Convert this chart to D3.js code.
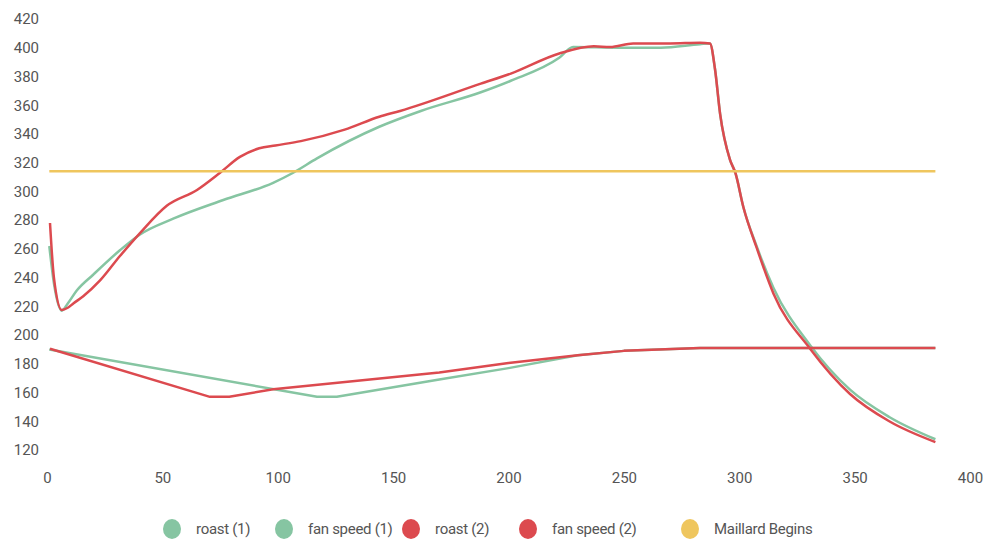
<!DOCTYPE html>
<html>
<head>
<meta charset="utf-8">
<script src="https://cdn.jsdelivr.net/npm/d3@7"></script>
<style>
  body { margin: 0; background: #fff; font-family: Roboto, "Noto Sans", sans-serif; }
  svg text { font-family: Roboto, "Noto Sans", sans-serif; }
</style>
</head>
<body>
<svg id="chart"></svg>
<script>
// roast (1) - time in seconds, temperature
var roast1Time = [1, 3, 6.4, 9, 12.9, 20, 31.6, 40.3, 54.7, 76.4, 98, 106.7, 117, 144, 162, 188, 201, 222, 228, 248, 266, 283, 287.3, 289.5, 291.7, 296, 298.3, 301.8, 307.5, 314.8, 330.7, 348, 365, 385];
var roast1Temp = [262, 236, 217, 222, 231, 242, 259, 270, 281, 294, 306, 313, 323, 345, 356, 369, 377, 393, 400.5, 400, 400, 402.5, 403, 385, 354, 322, 313, 289, 262, 233, 193, 162, 143, 127.5];

// roast (2)
var roast2Time = [1.3, 3, 6.4, 9, 11.4, 15.7, 23, 31.6, 40.3, 51.9, 65, 75, 83.6, 92, 99, 110, 129, 144, 153, 188, 201, 222, 237, 244, 254, 270, 283, 287.3, 289.5, 291.7, 296, 298.3, 301.8, 307.5, 314.8, 330.7, 348, 365, 385];
var roast2Temp = [278, 240, 217.5, 219, 222, 227, 238, 255, 271, 290, 301, 313, 324, 330, 332, 335, 343, 352, 356, 375, 382, 396, 401, 400.5, 403, 403, 403.5, 403, 385, 354, 322, 313, 289, 261, 229, 190.5, 159, 140, 125.5];

// fan speed (1)
var fan1Time = [1, 117, 125.6, 170, 200, 230, 250, 283, 385];
var fan1Speed = [190, 157, 157, 169, 177, 186, 189, 191, 191];

// fan speed (2)
var fan2Time = [1.3, 70.6, 79, 98, 170, 200, 230, 250, 283, 385];
var fan2Speed = [190.5, 157, 157, 162.3, 174, 180.5, 186, 189, 191, 191];

// Maillard begins
var maillardTime = [1, 385];
var maillardTemp = [314, 314];

var xTicks = [0, 50, 100, 150, 200, 250, 300, 350, 400];
var yTicks = [120, 140, 160, 180, 200, 220, 240, 260, 280, 300, 320, 340, 360, 380, 400, 420];

var seriesNames = ["roast (1)", "fan speed (1)", "roast (2)", "fan speed (2)", "Maillard Begins"];
var seriesColors = ["#86c5a2", "#86c5a2", "#dc4a4f", "#dc4a4f", "#efc65e"];

var width = 984;
var height = 539;

var svg = d3.select("#chart")
  .attr("width", width)
  .attr("height", height);

// Scales
var x = d3.scaleLinear().domain([0, 400]).range([47, 970]);
var y = d3.scaleLinear().domain([120, 420]).range([450, 19]);

// Axes (labels only, no lines)
var xAxis = svg.append("g")
  .attr("transform", "translate(0,478)")
  .call(d3.axisBottom(x).tickValues(xTicks).tickSize(0).tickPadding(0));
xAxis.select(".domain").remove();
xAxis.selectAll("text")
  .attr("fill", "#555")
  .attr("font-size", 15)
  .attr("dy", "0.35em");

var yAxis = svg.append("g")
  .attr("transform", "translate(39,0)")
  .call(d3.axisLeft(y).tickValues(yTicks).tickSize(0).tickPadding(0));
yAxis.select(".domain").remove();
yAxis.selectAll("text")
  .attr("fill", "#555")
  .attr("font-size", 15);

// Build series
function zip(t, v) {
  return t.map(function(d, i) { return [d, v[i]]; });
}
var series = [
  { pts: zip(roast1Time, roast1Temp), smooth: true },
  { pts: zip(fan1Time, fan1Speed), smooth: false },
  { pts: zip(roast2Time, roast2Temp), smooth: true },
  { pts: zip(fan2Time, fan2Speed), smooth: false },
  { pts: zip(maillardTime, maillardTemp), smooth: false }
];

var smoothLine = d3.line()
  .x(function(d) { return x(d[0]); })
  .y(function(d) { return y(d[1]); })
  .curve(d3.curveMonotoneX);

var straightLine = d3.line()
  .x(function(d) { return x(d[0]); })
  .y(function(d) { return y(d[1]); });

svg.append("g").selectAll("path")
  .data(series)
  .enter()
  .append("path")
  .attr("d", function(d) { return d.smooth ? smoothLine(d.pts) : straightLine(d.pts); })
  .attr("fill", "none")
  .attr("stroke", function(d, i) { return seriesColors[i]; })
  .attr("stroke-width", 2.5)
  .attr("stroke-linejoin", "round");

// Legend
var legendX = [172, 284, 411, 528, 690];
var legend = svg.append("g").selectAll("g")
  .data(seriesNames)
  .enter()
  .append("g")
  .attr("transform", function(d, i) { return "translate(" + legendX[i] + ",529)"; });

legend.append("ellipse")
  .attr("rx", 9)
  .attr("ry", 10)
  .attr("fill", function(d, i) { return seriesColors[i]; });

legend.append("text")
  .attr("x", 24)
  .attr("dy", "0.35em")
  .attr("fill", "#555")
  .attr("font-size", 15)
  .attr("letter-spacing", "-0.3px")
  .text(function(d) { return d; });
</script>
</body>
</html>
